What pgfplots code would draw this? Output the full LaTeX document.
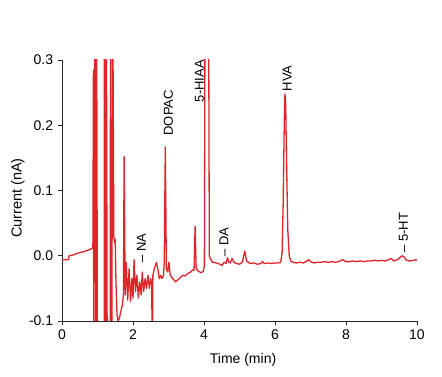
\documentclass[border=0pt]{standalone}
\usepackage{fontspec}
\setmainfont{Liberation Sans}
\usepackage{pgfplots}
\pgfplotsset{compat=1.18}
\definecolor{trace}{RGB}{224,36,40}
\tikzset{peak/.style={rotate=90, anchor=west, inner sep=0pt, font=\fontsize{13}{15}\selectfont}}
\begin{document}
\fontsize{14}{16}\selectfont
\begin{tikzpicture}
\path[use as bounding box] (-62pt,-56pt) rectangle (380pt,321pt);
\begin{axis}[
  scale only axis,
  width=355pt, height=261pt,
  xmin=0, xmax=10, ymin=-0.1, ymax=0.3,
  axis x line=bottom, axis y line=left,
  axis line style={-, line width=0.8pt, black!85},
  tick style={line width=0.8pt, black!85},
  tick align=outside,
  major tick length=4pt,
  xtick={0,2,4,6,8,10},
  ytick={-0.1,0,0.1,0.2,0.3},
  minor tick num=0,
  /pgf/number format/assume math mode=true,
  yticklabel style={/pgf/number format/.cd, fixed, fixed zerofill, precision=1},
  xticklabel style={/pgf/number format/.cd, fixed, precision=0},
  scaled y ticks=false,
  xlabel={Time (min)},
  ylabel={Current (nA)},
  xlabel style={at={(axis description cs:0.51,-0.149)}, anchor=center},
  ylabel style={at={(axis description cs:-0.124,0.471)}, anchor=center, font=\fontsize{14.5}{16}\selectfont},
  clip=true,
  every axis plot/.append style={line join=round},
]
\addplot[trace, line width=1.3pt] coordinates {
(0,-0.006) (0.1,-0.006) (0.18,-0.006) (0.2,0.0) (0.3,0.001) (0.4,0.003) (0.5,0.005)
(0.6,0.006) (0.7,0.008) (0.8,0.010) (0.87,0.012)
(0.885,0.285) (0.895,-0.2) (0.93,0.4) (0.955,-0.2) (0.975,0.4) (1.00,-0.2)
(1.19,-0.2) (1.195,0.4) (1.225,-0.2) (1.25,0.4) (1.275,-0.2)
(1.36,-0.2) (1.365,0.4) (1.40,-0.2) (1.43,0.4)
(1.46,0.03) (1.48,0.02) (1.50,0.025) (1.52,-0.04) (1.55,-0.09) (1.58,-0.1)
(1.62,-0.095) (1.66,-0.085) (1.70,-0.075) (1.73,-0.06) (1.75,0.152) (1.78,-0.06)
(1.81,-0.01) (1.85,-0.068) (1.89,-0.02) (1.93,-0.07) (1.97,-0.035) (2.00,-0.065)
(2.03,-0.006) (2.07,-0.055) (2.11,-0.03) (2.15,-0.065) (2.19,-0.04) (2.23,-0.06)
(2.26,-0.025) (2.30,-0.055) (2.34,-0.035) (2.38,-0.05) (2.42,-0.03) (2.46,-0.05)
(2.50,-0.035) (2.53,-0.045) (2.54,-0.2)
(2.56,-0.03) (2.60,-0.02) (2.66,-0.01) (2.70,-0.02) (2.74,-0.035) (2.78,-0.03)
(2.82,-0.035) (2.86,-0.03) (2.88,-0.01) (2.91,0.167) (2.94,-0.02) (2.98,-0.025)
(3.01,-0.01) (3.05,-0.03) (3.12,-0.035) (3.2,-0.04) (3.3,-0.035) (3.4,-0.03)
(3.47,-0.031) (3.55,-0.027) (3.62,-0.025) (3.67,-0.022) (3.72,-0.022) (3.75,0.045)
(3.78,-0.02) (3.85,-0.024) (3.92,-0.026) (3.98,-0.024) (4.01,-0.015) (4.03,0.4)
(4.13,0.4) (4.15,0.0) (4.19,-0.006) (4.25,-0.010) (4.35,-0.011) (4.45,-0.013)
(4.51,-0.015) (4.56,-0.010) (4.62,-0.012) (4.66,-0.003) (4.70,-0.010) (4.74,-0.011)
(4.79,-0.004) (4.84,-0.010) (4.92,-0.012) (5.0,-0.013) (5.08,-0.010) (5.15,0.007)
(5.2,-0.008) (5.3,-0.012) (5.4,-0.011) (5.5,-0.013) (5.6,-0.012) (5.65,-0.009)
(5.7,-0.012) (5.8,-0.011) (5.9,-0.012) (6.0,-0.011) (6.1,-0.011) (6.16,-0.010)
(6.20,0.005) (6.23,0.08) (6.26,0.2) (6.28,0.248) (6.30,0.235) (6.33,0.13)
(6.36,0.04) (6.40,0.0) (6.44,-0.008) (6.5,-0.010) (6.6,-0.011) (6.7,-0.010)
(6.8,-0.011) (6.9,-0.008) (6.95,-0.006) (7.0,-0.009) (7.1,-0.011) (7.2,-0.010)
(7.3,-0.010) (7.4,-0.009) (7.5,-0.010) (7.6,-0.009) (7.7,-0.010) (7.8,-0.009)
(7.9,-0.006) (8.0,-0.009) (8.1,-0.009) (8.2,-0.008) (8.3,-0.009) (8.4,-0.008)
(8.5,-0.009) (8.6,-0.008) (8.7,-0.008) (8.8,-0.007) (8.9,-0.008) (9.0,-0.007)
(9.1,-0.008) (9.2,-0.006) (9.27,-0.004) (9.35,-0.008) (9.45,-0.006) (9.52,-0.003)
(9.58,0.0) (9.64,-0.002) (9.70,-0.007) (9.8,-0.008) (9.9,-0.007) (10,-0.006)
};
\node[peak] at (axis cs:2.24,-0.011) {-- NA};
\node[peak] at (axis cs:3.00,0.184) {DOPAC};
\node[peak] at (axis cs:3.87,0.235) {5-HIAA};
\node[peak] at (axis cs:4.56,-0.0015) {-- DA};
\node[peak] at (axis cs:6.34,0.252) {HVA};
\node[peak] at (axis cs:9.62,0.0046) {-- 5-HT};
\end{axis}
\end{tikzpicture}
\end{document}
